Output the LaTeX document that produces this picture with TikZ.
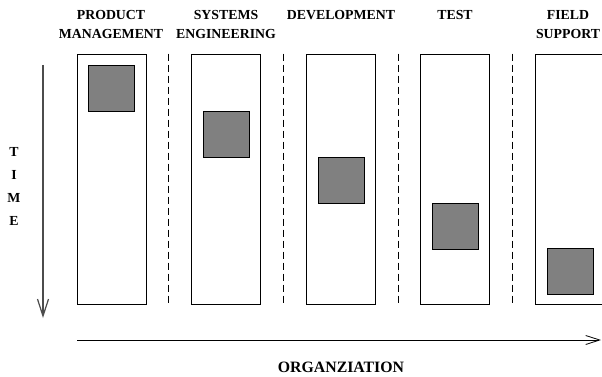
\documentclass[tikz,border=0pt]{standalone}
\usepackage{fontspec}
\setmainfont{Liberation Serif}
\usetikzlibrary{arrows.meta,calc}

\begin{document}
\begin{tikzpicture}[x=1pt,y=-1pt]
        \useasboundingbox (0,0) rectangle (602,377);
        \clip (0,0) rectangle (602,377);
        \begin{scope}[every node/.style={font=\bfseries\fontsize{13.8}{19}\selectfont, align=center, inner sep=0}]
                \node (PM) at (111,24.5) {PRODUCT\\MANAGEMENT};
                \node (SE) at (226,24.5) {SYSTEMS\\ENGINEERING};
                \node (DV) at (341,15) {DEVELOPMENT};
                \node (TS) at (455,15) {TEST};
                \node (FS) at (568,24.5) {FIELD\\SUPPORT};
                \node (TM) at (14,186) [font=\bfseries\fontsize{13.8}{23}\selectfont] {T\\I\\M\\E};
                \node (OR) at (341,367) [font=\bfseries\fontsize{15.8}{19}\selectfont] {ORGANZIATION};
        \end{scope}
        \begin{scope}[every node/.style={draw, thick, inner sep=0}]
                \foreach \i/\x/\y in {1/111.5/88, 2/226/134, 3/341/180, 4/455/226, 5/570/271} {
                        \node [minimum width=69pt, minimum height=250pt] (C\i) at (\x,179) {};
                        \node [fill=gray, minimum size=46pt] (B\i) at (\x,\y) {};
                }
        \end{scope}
        \begin{scope}[every path/.style={line width=1pt, dash pattern=on 7pt off 4pt}]
                \foreach \i [evaluate=\i as \j using int(\i+1)] in {1,...,4}
                        \draw ($(C\i.north east)!0.5!(C\j.north west)$) -- ($(C\i.south east)!0.5!(C\j.south west)$);
        \end{scope}
        \coordinate (T0) at (43,65);
        \coordinate (T1) at (43,318);
        \coordinate (O0) at (77,340);
        \coordinate (O1) at (601,340);
        \draw [black!70, line width=1.2pt, -{Straight Barb[length=17pt,width=11pt]}] (T0) -- (T1);
        \draw [thick, -{Straight Barb[length=14pt,width=9pt]}] (O0) -- (O1);
\end{tikzpicture}
\end{document}
